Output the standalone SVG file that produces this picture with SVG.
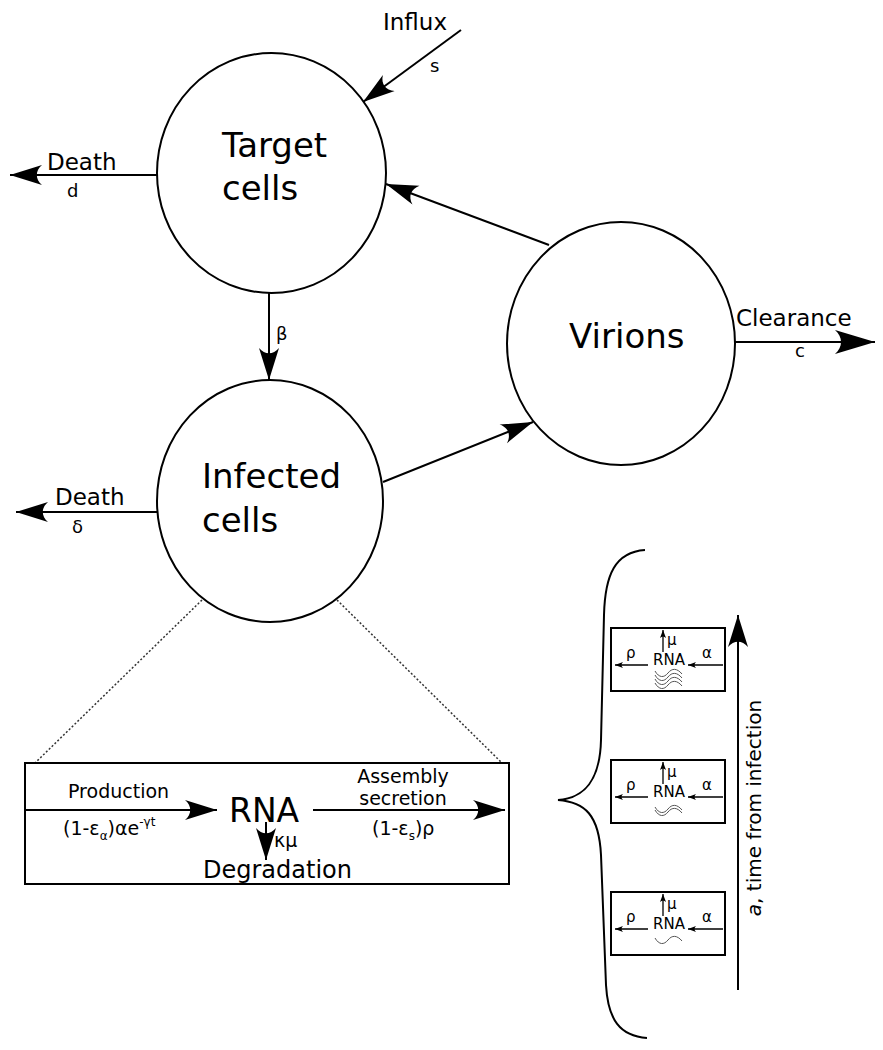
<svg xmlns="http://www.w3.org/2000/svg" width="883" height="1050" viewBox="0 0 883 1050">
<style>
text{font-family:"DejaVu Sans","Liberation Sans",sans-serif;fill:#000}
.node{fill:#fff;stroke:#000;stroke-width:2}
.big{font-size:34px}
.lab{font-size:23px}
.sym{font-size:18px}
.c{fill:none;stroke:#000;stroke-width:2}
.dot{fill:none;stroke:#333;stroke-width:1.5;stroke-dasharray:2 2}
.sm{fill:none;stroke:#000;stroke-width:1.3}
.wave{fill:none;stroke:#555;stroke-width:1}
.box{fill:#fff;stroke:#000;stroke-width:2}
.st{font-size:15px}
</style>
<defs>
<marker id="ah" markerUnits="userSpaceOnUse" viewBox="-34 -12 36 24" markerWidth="36" markerHeight="24" refX="0" refY="0" orient="auto"><path d="M0,0 L-32,-10 C-25,-4 -25,4 -32,10 Z" fill="#000"/></marker>
<marker id="ahL" markerUnits="userSpaceOnUse" viewBox="-42 -14 44 28" markerWidth="44" markerHeight="28" refX="0" refY="0" orient="auto"><path d="M0,0 L-40,-12 C-32,-5 -32,5 -40,12 Z" fill="#000"/></marker>
<marker id="ahs" markerUnits="userSpaceOnUse" viewBox="-10 -5 12 10" markerWidth="12" markerHeight="10" refX="0" refY="0" orient="auto"><path d="M0,0 L-8,-3 C-6,-1 -6,1 -8,3 Z" fill="#000"/></marker>
<path id="wv" d="M0,-2 C4,5 9,5 13,0 C17,-5 22,-5 27,1"/>
</defs>

<g id="connectors">
<line class="c" x1="461" y1="30" x2="363" y2="102" marker-end="url(#ah)"/>
<line class="c" x1="157" y1="175" x2="10" y2="175" marker-end="url(#ah)"/>
<line class="c" x1="549" y1="245" x2="386" y2="184" marker-end="url(#ah)"/>
<line class="c" x1="269" y1="293" x2="269" y2="380" marker-end="url(#ah)"/>
<line class="c" x1="383" y1="482" x2="533" y2="422" marker-end="url(#ah)"/>
<line class="c" x1="735" y1="342" x2="875" y2="342" marker-end="url(#ahL)"/>
<line class="c" x1="157" y1="512" x2="16" y2="512" marker-end="url(#ah)"/>
<line class="dot" x1="202" y1="600" x2="35" y2="763"/>
<line class="dot" x1="337" y1="600" x2="502" y2="763"/>
<line class="c" x1="738" y1="990" x2="738" y2="615" marker-end="url(#ah)"/>
</g>

<g id="labels">
<text class="lab" x="383" y="30">Influx</text>
<text class="sym" x="430" y="72">s</text>
<text class="lab" x="47" y="170">Death</text>
<text class="sym" x="67" y="197">d</text>
<text class="sym" x="276" y="340" font-size="19">β</text>
<text class="lab" x="736" y="326">Clearance</text>
<text class="sym" x="795" y="357">c</text>
<text class="lab" x="55" y="505">Death</text>
<text class="sym" x="72" y="533">δ</text>
</g>

<g id="target">
<ellipse class="node" cx="271.5" cy="173" rx="114.5" ry="120"/>
<text class="big" x="222" y="157">Target</text>
<text class="big" x="222" y="200">cells</text>
</g>

<g id="infected">
<ellipse class="node" cx="270" cy="501" rx="113" ry="121"/>
<text class="big" x="202" y="488">Infected</text>
<text class="big" x="202" y="532">cells</text>
</g>

<g id="virions">
<ellipse class="node" cx="621" cy="343.5" rx="114" ry="121.5"/>
<text class="big" x="569" y="348">Virions</text>
</g>

<g id="detail">
<rect class="box" x="25" y="763" width="484" height="121"/>
<line class="c" x1="25" y1="810" x2="217" y2="810" marker-end="url(#ah)"/>
<line class="c" x1="313" y1="810" x2="505" y2="810" marker-end="url(#ah)"/>
<line class="c" x1="266" y1="822" x2="266" y2="860" marker-end="url(#ah)"/>
<text x="68" y="798" font-size="19">Production</text>
<text x="63" y="835" font-size="19">(1-ε<tspan font-size="12" dy="5">α</tspan><tspan dy="-5">)αe</tspan><tspan font-size="12" dy="-9">-γt</tspan></text>
<text x="229" y="822" font-size="33">RNA</text>
<text x="403" y="783" font-size="19" text-anchor="middle">Assembly</text>
<text x="403" y="805" font-size="19" text-anchor="middle">secretion</text>
<text x="372" y="835" font-size="19">(1-ε<tspan font-size="12" dy="5">s</tspan><tspan dy="-5">)ρ</tspan></text>
<text x="274" y="847" font-size="19">κμ</text>
<text x="203" y="878" font-size="24">Degradation</text>
</g>

<g id="brace">
<path class="c" d="M645,550 C615,552 605,575 604,615 L601,740 C600,780 585,798 558,800 C585,802 599,815 601,855 L606,985 C608,1020 620,1036 647,1038"/>
</g>

<g id="stage1">
<rect class="box" x="611" y="628" width="114" height="63"/>
<line class="sm" x1="648" y1="665" x2="615" y2="665" marker-end="url(#ahs)"/>
<line class="sm" x1="723" y1="665" x2="688" y2="665" marker-end="url(#ahs)"/>
<line class="sm" x1="663" y1="652" x2="663" y2="630" marker-end="url(#ahs)"/>
<text class="st" x="626" y="658">ρ</text>
<text class="st" x="653" y="665">RNA</text>
<text class="st" x="702" y="658">α</text>
<text class="st" x="667" y="645">μ</text>
<use href="#wv" class="wave" x="655" y="673"/>
<use href="#wv" class="wave" x="655" y="677"/>
<use href="#wv" class="wave" x="655" y="681"/>
<use href="#wv" class="wave" x="655" y="685"/>
</g>

<g id="stage2">
<rect class="box" x="611" y="760" width="114" height="63"/>
<line class="sm" x1="648" y1="797" x2="615" y2="797" marker-end="url(#ahs)"/>
<line class="sm" x1="723" y1="797" x2="688" y2="797" marker-end="url(#ahs)"/>
<line class="sm" x1="663" y1="784" x2="663" y2="762" marker-end="url(#ahs)"/>
<text class="st" x="626" y="790">ρ</text>
<text class="st" x="653" y="797">RNA</text>
<text class="st" x="702" y="790">α</text>
<text class="st" x="667" y="777">μ</text>
<use href="#wv" class="wave" x="655" y="809"/>
<use href="#wv" class="wave" x="655" y="812"/>
</g>

<g id="stage3">
<rect class="box" x="611" y="892" width="114" height="63"/>
<line class="sm" x1="648" y1="929" x2="615" y2="929" marker-end="url(#ahs)"/>
<line class="sm" x1="723" y1="929" x2="688" y2="929" marker-end="url(#ahs)"/>
<line class="sm" x1="663" y1="916" x2="663" y2="894" marker-end="url(#ahs)"/>
<text class="st" x="626" y="922">ρ</text>
<text class="st" x="653" y="929">RNA</text>
<text class="st" x="702" y="922">α</text>
<text class="st" x="667" y="909">μ</text>
<use href="#wv" class="wave" x="655" y="940"/>
</g>

<g id="time-axis-label">
<text x="0" y="0" font-size="20" text-anchor="middle" transform="translate(761,808) rotate(-90)"><tspan font-style="italic">a</tspan>, time from infection</text>
</g>
</svg>
